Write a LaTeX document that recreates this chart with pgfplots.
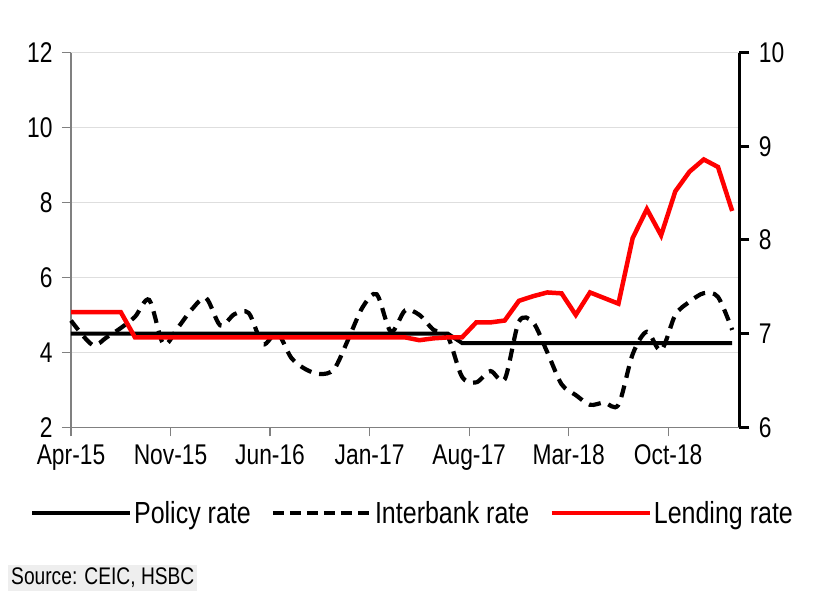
\documentclass[border=0pt]{standalone}
\usepackage{fontspec}
\setmainfont[FakeStretch=0.8]{Liberation Sans}
\newfontfamily\legfont[FakeStretch=0.82]{Liberation Sans}
\usepackage{pgfplots}
\pgfplotsset{compat=1.18}
\definecolor{axgray}{RGB}{128,128,128}
\definecolor{gridgray}{RGB}{222,222,222}
\definecolor{lred}{RGB}{255,0,0}
\definecolor{srcbg}{RGB}{238,238,238}
\newcommand{\bigf}{\fontsize{28.5}{30}\selectfont}
\begin{document}
\begin{tikzpicture}[x=1pt,y=1pt]
\useasboundingbox (0,0) rectangle (820,612);
\begin{axis}[
  at={(71pt,184.7pt)}, anchor=south west, scale only axis,
  width=668.3pt, height=374.6pt,
  xmin=0, xmax=47, ymin=2, ymax=12,
  axis y line*=left, axis x line*=bottom,
  axis line style={axgray, line width=1.2pt, -},
  xtick={0,7,14,21,28,35,42},
  xticklabels={Apr-15,Nov-15,Jun-16,Jan-17,Aug-17,Mar-18,Oct-18},
  ytick={2,4,6,8,10,12},
  ymajorgrids, grid style={gridgray, line width=1pt},
  tick align=outside, major tick length=9pt,
  major tick style={axgray, line width=1.2pt},
  tick label style={font=\bigf},
  /pgf/number format/assume math mode=true,
  yticklabel style={xshift=-6pt},
  xticklabel style={yshift=-5pt},
  clip=false,
]
\addplot[black, line width=4pt] coordinates {
(0,4.5) (0.5,4.5) (1.5,4.5) (2.5,4.5) (3.5,4.5) (4.5,4.5) (5.5,4.5) (6.5,4.5) (7.5,4.5) (8.5,4.5) (9.5,4.5)
(10.5,4.5) (11.5,4.5) (12.5,4.5) (13.5,4.5) (14.5,4.5) (15.5,4.5) (16.5,4.5) (17.5,4.5) (18.5,4.5) (19.5,4.5)
(20.5,4.5) (21.5,4.5) (22.5,4.5) (23.5,4.5) (24.5,4.5) (25.5,4.5) (26.5,4.5) (27.5,4.25) (28.5,4.25) (29.5,4.25)
(30.5,4.25) (31.5,4.25) (32.5,4.25) (33.5,4.25) (34.5,4.25) (35.5,4.25) (36.5,4.25) (37.5,4.25) (38.5,4.25) (39.5,4.25)
(40.5,4.25) (41.5,4.25) (42.5,4.25) (43.5,4.25) (44.5,4.25) (45.5,4.25) (46.5,4.25)};
\addplot[black, line width=4.2pt, smooth, tension=0.5, dash pattern=on 12pt off 8pt] coordinates {
(0,4.85) (1.5,4.20) (2.5,4.40) (3.5,4.65) (4.5,4.95) (5.5,5.40) (6.5,4.22) (7.5,4.65) (8.5,5.15) (9.5,5.45)
(10.5,4.72) (11.5,5.02) (12.5,5.05) (13.5,4.22) (14.5,4.52) (15.5,3.85) (16.5,3.55) (17.5,3.42) (18.5,3.55) (19.5,4.35)
(20.5,5.20) (21.5,5.55) (22.5,4.55) (23.5,5.12) (24.5,5.00) (25.5,4.60) (26.5,4.42) (27.5,3.35) (28.5,3.20) (29.5,3.50)
(30.5,3.28) (31.5,4.82) (32.5,4.80) (33.5,4.00) (34.5,3.15) (35.5,2.86) (36.5,2.60) (37.5,2.66) (38.5,2.60) (39.5,3.95)
(40.5,4.55) (41.5,4.05) (42.5,5.00) (43.5,5.35) (44.5,5.58) (45.5,5.48) (46.5,4.60)};
\end{axis}
\begin{axis}[
  at={(71pt,184.7pt)}, anchor=south west, scale only axis,
  width=668.3pt, height=374.6pt,
  xmin=0, xmax=47, ymin=6, ymax=10,
  axis y line*=right, axis x line=none,
  y axis line style={black, line width=3pt, -},
  ytick={6,7,8,9,10},
  tick align=outside, major tick length=10pt,
  major tick style={black, line width=3pt},
  tick label style={font=\bigf},
  /pgf/number format/assume math mode=true,
  yticklabel style={xshift=6pt},
  clip=false,
  legend columns=3,
  legend style={at={(0.511,-0.229)}, anchor=center, draw=none, fill=none,
    font=\legfont\fontsize{30.5}{32}\selectfont, inner sep=0pt,
    /tikz/every even column/.append style={column sep=18pt}},
  legend image code/.code={\draw[#1] (0pt,0pt) -- (98pt,0pt);},
]
\addlegendimage{black, line width=4pt}
\addlegendentry{Policy rate}
\addlegendimage{black, line width=4.2pt, dash pattern=on 11pt off 6pt}
\addlegendentry{Interbank rate}
\addplot[lred, line width=4.5pt] coordinates {
(0,7.23) (0.5,7.23) (1.5,7.23) (2.5,7.23) (3.5,7.23) (4.5,6.96) (5.5,6.96) (6.5,6.96) (7.5,6.96) (8.5,6.96) (9.5,6.96)
(10.5,6.96) (11.5,6.96) (12.5,6.96) (13.5,6.96) (14.5,6.96) (15.5,6.96) (16.5,6.96) (17.5,6.96) (18.5,6.96) (19.5,6.96)
(20.5,6.96) (21.5,6.96) (22.5,6.96) (23.5,6.96) (24.5,6.93) (25.5,6.95) (26.5,6.96) (27.5,6.96) (28.5,7.12) (29.5,7.12)
(30.5,7.14) (31.5,7.35) (32.5,7.40) (33.5,7.44) (34.5,7.43) (35.5,7.20) (36.5,7.44) (37.5,7.38) (38.5,7.32) (39.5,8.02)
(40.5,8.33) (41.5,8.05) (42.5,8.52) (43.5,8.73) (44.5,8.86) (45.5,8.78) (46.5,8.31)};
\addlegendentry{Lending rate}
\end{axis}
\node[anchor=west, fill=srcbg, inner sep=3pt, font=\fontsize{24}{26}\selectfont] at (8,34) {Source: CEIC, HSBC};
\end{tikzpicture}
\end{document}
